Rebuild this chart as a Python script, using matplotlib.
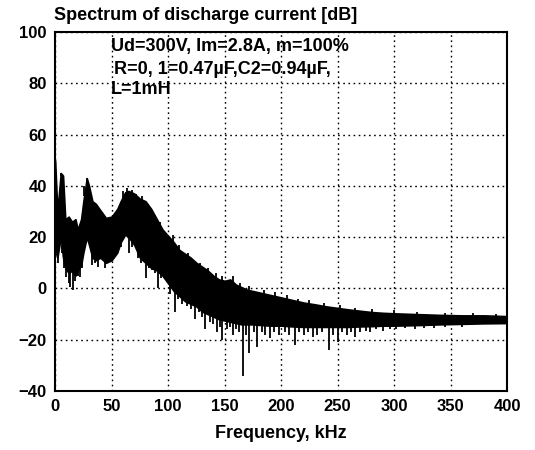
import matplotlib
matplotlib.use('Agg')
import matplotlib.pyplot as plt
import numpy as np

plt.rcParams['font.family'] = ['Liberation Sans', 'DejaVu Sans']
plt.rcParams['font.weight'] = 'bold'

# Envolvente del espectro (kHz, dB)
freq = [0, 2, 5, 7, 9, 12, 15, 18, 20, 23, 25, 28, 30, 33, 36, 40, 45, 50,
        55, 58, 62, 65, 70, 75, 80, 85, 90, 95, 100, 105, 110, 115, 120,
        125, 130, 135, 140, 145, 150, 155, 160, 165, 170, 175, 180, 190,
        200, 210, 220, 230, 240, 250, 260, 270, 280, 290, 300, 320, 340,
        360, 380, 400]
upper = [50, 30, 45, 44, 27, 28, 26, 27, 23, 27, 34, 43, 40, 34, 33, 30.5,
         27.5, 28, 31, 34, 37.5, 38, 37, 35, 34, 31, 27, 23, 20.5, 18, 15,
         13.5, 12, 10, 8.5, 7, 5, 3.5, 3, 3.5, 1.5, 0.5, -0.5, -1, -1.5,
         -2.5, -3.5, -4.5, -5.5, -6.2, -7, -7.6, -8.2, -8.7, -9.2, -9.5,
         -9.7, -10, -10.3, -10.5, -10.5, -10.8]
lower = [15, 12, 20, 12, 8, 6, 7, 5, 7, 9, 14, 20, 17, 12, 11, 12, 10, 11,
         14, 18, 21, 20, 17, 12, 10, 8, 7, 5, 2, -1, -3, -5, -6, -7, -9,
         -10, -11, -12, -12.5, -13, -13.5, -14, -14, -14, -14.2, -14.5,
         -14.5, -14.8, -15, -15, -15, -15, -15, -14.8, -14.7, -14.5, -14.5,
         -14.3, -14, -13.8, -13.6, -13.5]

# Picos hacia abajo (kHz, dB minimo)
down_f = [3, 6, 8, 10, 12, 13, 16, 18, 20, 22, 24, 33, 35, 38, 40, 42, 44,
          47, 49, 52, 55, 58, 65, 68, 73, 76, 80, 83, 86, 88, 91, 94, 97,
          99, 102, 106, 109, 112, 115, 117, 120, 124, 127, 130, 133, 137,
          140, 143, 146, 148, 152, 155, 157, 160, 163, 166, 169, 172, 176,
          179, 183, 186, 190, 194, 198, 203, 207, 212, 216, 220, 224, 228,
          232, 236, 242, 246, 250, 254, 258, 262, 265, 270, 275, 279, 284,
          290, 296, 302, 310, 318, 326, 335, 345, 360]
down_lo = [10, 14, 8, 4.5, 2, 0.5, -0.6, 3, 5, 4.5, 8, 9, 10, 8.4, 12, 11,
           8, 10, 12, 13, 14, 16, 13.8, 16, 12, 10, 4, 8, 7, 6, 0, 4, 5,
           3.3, -2, -9, -4, -6, -5, -7, -8, -12, -9, -11, -16, -13, -14,
           -17, -15, -20, -16, -15, -18, -16, -17, -34, -18, -25, -17, -23,
           -17, -18, -19.5, -17, -18, -17, -18, -22, -17, -18, -17, -19,
           -18, -17, -24, -18, -21, -17, -18, -17, -19, -17, -16.5, -17,
           -16, -16.5, -16, -16, -15.5, -16, -15.5, -15.5, -15, -15]

# Picos hacia arriba (kHz, dB maximo)
up_f = [0, 5, 26, 28, 60, 64, 68, 72, 77, 82, 87, 93, 104, 110, 118, 128,
        135, 142, 148, 157, 164, 172, 185, 195, 205, 215, 225, 238, 252,
        265, 280, 300, 320, 345, 370, 390]
up_hi = [50, 45, 40, 43, 38, 39, 38.5, 37, 36, 33, 30, 26, 21, 17, 14, 10,
         8, 6, 5, 5, 2, 1, -0.5, -1.5, -2.5, -4, -4.5, -5.5, -6.5, -7.5,
         -8, -8.5, -9, -9.5, -9.5, -9.8]

fig = plt.figure(figsize=(5.35, 4.5), dpi=100)
ax = fig.add_axes([0.103, 0.131, 0.845, 0.798])

ax.fill_between(freq, lower, upper, color='black', linewidth=1.2,
                edgecolor='black')
ax.vlines(down_f, down_lo, np.interp(down_f, freq, lower) + 1,
          color='black', linewidth=1.3)
ax.vlines(up_f, np.interp(up_f, freq, upper) - 1, up_hi,
          color='black', linewidth=1.3)

ax.set_xlim(0, 400)
ax.set_ylim(-40, 100)
ax.set_xticks(range(0, 401, 50))
ax.set_yticks(range(-40, 101, 20))
ax.grid(True, color='black', linestyle=(0, (1.2, 2.5)), linewidth=1)
ax.tick_params(length=0, labelsize=12, pad=6)
for s in ax.spines.values():
    s.set_linewidth(1.5)

ax.set_xlabel('Frequency, kHz', fontsize=13, fontweight='bold', labelpad=8)
fig.text(0.10, 0.965, 'Spectrum of discharge current [dB]', fontsize=13,
         fontweight='bold', va='center')

ax.text(0.123, 0.96, 'Ud=300V, Im=2.8A, m=100%', transform=ax.transAxes,
        fontsize=13, fontweight='bold', va='center')
ax.text(0.13, 0.895, 'R=0, 1=0.47\u00b5F,C2=0.94\u00b5F,', transform=ax.transAxes,
        fontsize=13, fontweight='bold', va='center')
ax.text(0.123, 0.84, 'L=1mH', transform=ax.transAxes,
        fontsize=13, fontweight='bold', va='center')

fig.savefig('out.png', dpi=100)
